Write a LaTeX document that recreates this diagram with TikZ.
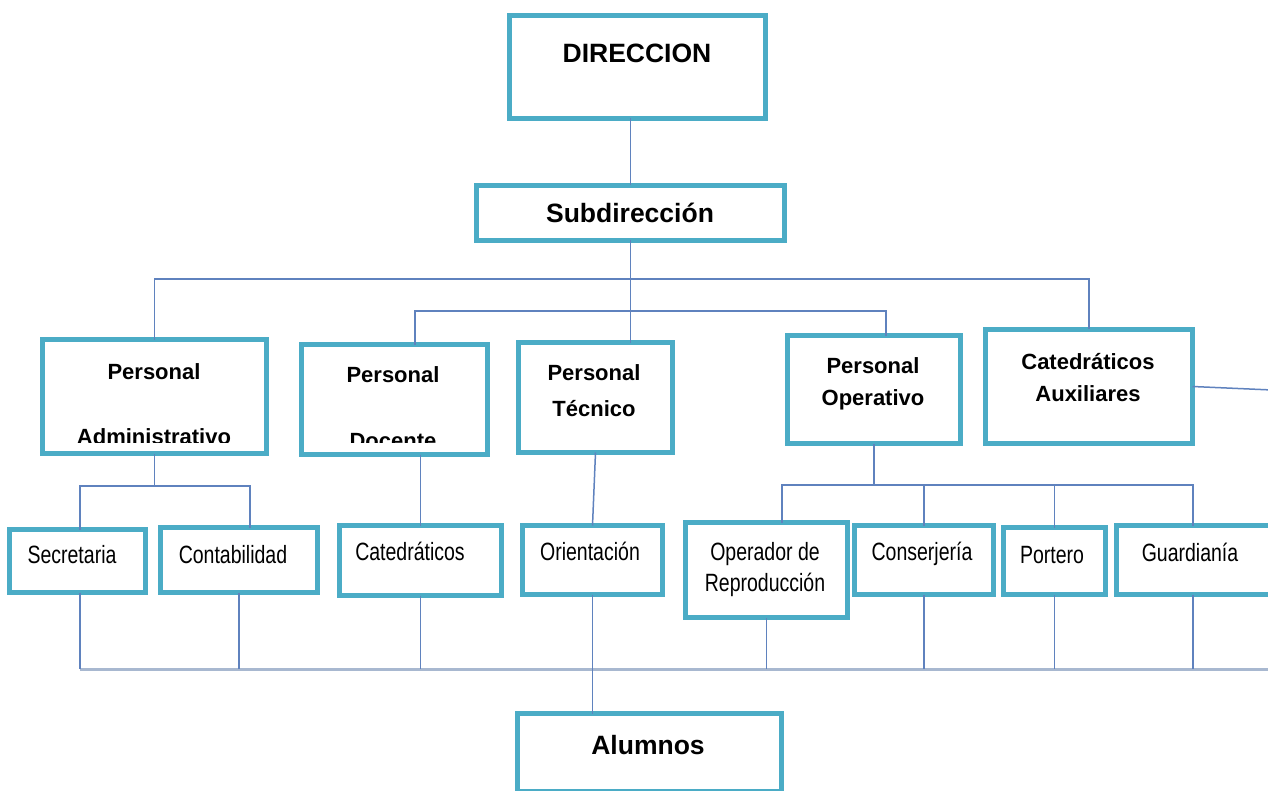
\documentclass[tikz,border=0pt]{standalone}
\usepackage{fontspec}
\setmainfont{Liberation Sans}
\newfontfamily\narrowf[FakeStretch=0.78]{Liberation Sans}
\definecolor{boxc}{RGB}{75,172,198}
\definecolor{linec}{RGB}{95,130,190}
\definecolor{busc}{RGB}{168,184,208}
\begin{document}
\begin{tikzpicture}[x=1pt,y=-1pt,
  box/.style={draw=boxc, line width=5pt, inner sep=0pt, outer sep=0pt, fill=white},
  conn/.style={draw=linec, line width=1.5pt},
  bus/.style={draw=busc, line width=3pt},
  lvA/.style={font=\fontsize{26.5}{30}\selectfont\bfseries, inner sep=0pt, anchor=base},
  lvB/.style={font=\fontsize{22}{26}\selectfont\bfseries, inner sep=0pt, anchor=base},
  lvC/.style={font=\narrowf\fontsize{25}{30}\selectfont, inner sep=0pt, anchor=base}]
\clip (0,0) rectangle (1268,791);
\fill[white] (0,0) rectangle (1268,791);
% boxes
\node[box, minimum width=256pt, minimum height=103pt] (dir) at (637.5,67) {};
\node[box, minimum width=308pt, minimum height=55pt] (sub) at (630.5,213) {};
\node[box, minimum width=224pt, minimum height=114pt] (adm) at (154.5,396.5) {};
\node[box, minimum width=186pt, minimum height=110pt] (doc) at (394.5,399.5) {};
\node[box, minimum width=154pt, minimum height=110pt] (tec) at (595.5,397.5) {};
\node[box, minimum width=173pt, minimum height=108pt] (ope) at (874,389.5) {};
\node[box, minimum width=207pt, minimum height=114pt] (cat) at (1089,386.5) {};
\node[box, minimum width=136pt, minimum height=63pt] (sec) at (77.5,561) {};
\node[box, minimum width=157pt, minimum height=65pt] (con) at (239,560) {};
\node[box, minimum width=162pt, minimum height=70pt] (catd) at (420.5,560.5) {};
\node[box, minimum width=140pt, minimum height=69pt] (ori) at (592.5,560) {};
\node[box, minimum width=162pt, minimum height=95pt] (opr) at (766.5,570) {};
\node[box, minimum width=139pt, minimum height=69pt] (cons) at (924,560) {};
\node[box, minimum width=102pt, minimum height=67pt] (por) at (1054.5,561) {};
\node[box, minimum width=161pt, minimum height=69pt] (gua) at (1197,560) {};
\node[box, minimum width=264pt, minimum height=78pt] (alu) at (649.5,752.5) {};
% coordinates
\coordinate (b1) at (630.5,279);
\coordinate (b2) at (630.5,311);
\coordinate (b3) at (154.5,486);
\coordinate (b4) at (874,485);
\coordinate (b5l) at (80,669);
\coordinate (b5r) at (1272,669);
\coordinate (e1) at (1272,390);
% connectors
\draw[conn] (sub.north |- dir.south) -- (sub.north);
\draw[conn] (sub.south) -- (sub.south |- tec.north);
\draw[conn] (adm.north) |- (b1) -| (cat.north);
\draw[conn] ([xshift=20.5pt]doc.north) |- (b2) -| ([xshift=12pt]ope.north);
\draw[conn] (adm.south) -- (b3);
\draw[conn] ([xshift=2.5pt]sec.north) |- (b3) -| ([xshift=11pt]con.north);
\draw[conn] (catd.north |- doc.south) -- (catd.north);
\draw[conn] (tec.south) -- (ori.north);
\draw[conn] (ope.south) -- (b4);
\draw[conn] ([xshift=15.5pt]opr.north) |- (b4) -| ([xshift=-4pt]gua.north);
\draw[conn] (cons.north |- b4) -- (cons.north);
\draw[conn] (por.north |- b4) -- (por.north);
\draw[conn] (cat.east) -- (e1);
\draw[bus] (b5l) -- (b5r);
\draw[conn] ([xshift=2.5pt]sec.south) -- (b5l);
\draw[conn] (con.south) -- (con.south |- b5l);
\draw[conn] (catd.south) -- (catd.south |- b5l);
\draw[conn] (opr.south) -- (opr.south |- b5l);
\draw[conn] (cons.south) -- (cons.south |- b5l);
\draw[conn] (por.south) -- (por.south |- b5l);
\draw[conn] ([xshift=-4pt]gua.south) -- ([xshift=-4pt]gua.south |- b5l);
\draw[conn] (ori.south) -- (ori.south |- alu.north);
% texts
\node[lvA] (dirT) at (637,63) {DIRECCION};
\node[lvA] (subT) at (630,223) {Subdirección};
\node[lvA] (aluT) at (648,754) {Alumnos};
\begin{scope}
\clip (40,337) rectangle (269,442);
\node[lvB] (admT1) at (154,379) {Personal};
\node[lvB] (admT2) at (154,444) {Administrativo};
\end{scope}
\begin{scope}
\clip (299,342) rectangle (490,442);
\node[lvB] (docT1) at (393,382) {Personal};
\node[lvB] (docT2) at (393,448) {Docente};
\end{scope}
\node[lvB] (tecT1) at (594,380) {Personal};
\node[lvB] (tecT2) at (594,416) {Técnico};
\node[lvB] (opeT1) at (873,373) {Personal};
\node[lvB] (opeT2) at (873,405) {Operativo};
\node[lvB] (catT1) at (1088,369) {Catedráticos};
\node[lvB] (catT2) at (1088,401) {Auxiliares};
\node[lvC] (secT) at (72,563) {Secretaria};
\node[lvC] (conT) at (233,563) {Contabilidad};
\node[lvC] (catdT) at (410,560) {Catedráticos};
\node[lvC] (oriT) at (590,560) {Orientación};
\node[lvC] (oprT1) at (765,560) {Operador de};
\node[lvC] (oprT2) at (765,591) {Reproducción};
\node[lvC] (consT) at (922,560) {Conserjería};
\node[lvC] (porT) at (1052,563) {Portero};
\node[lvC] (guaT) at (1190,561) {Guardianía};
\end{tikzpicture}
\end{document}
